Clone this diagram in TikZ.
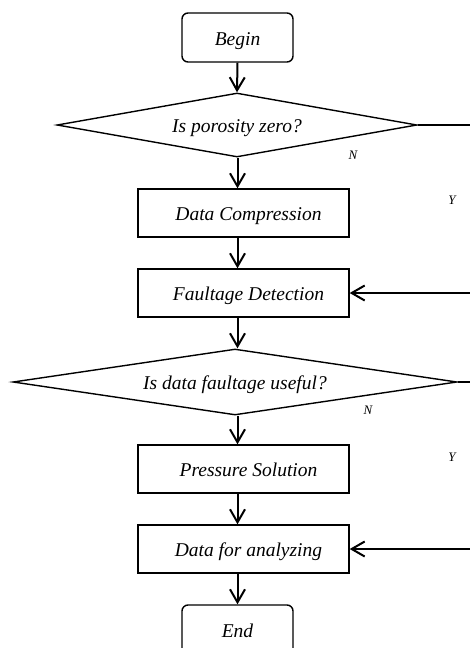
\documentclass[tikz,border=0pt]{standalone}
\usepackage{fontspec}
\setmainfont{Liberation Serif}
\usetikzlibrary{arrows.meta,shapes.geometric}
\begin{document}
\begin{tikzpicture}[x=1pt,y=-1pt,
  label font/.style={font=\fontsize{19.5}{23}\selectfont\itshape,
    text height=15pt, text depth=0pt},
  terminal/.style={draw, line width=1.4pt, rounded corners=6pt, rectangle,
    minimum width=111pt, minimum height=49pt, inner sep=0pt, label font},
  procbox/.style={draw, line width=1.4pt, rectangle,
    minimum width=211pt, minimum height=48pt, inner sep=0pt, label font},
  decision/.style={draw, line width=1.4pt, diamond, shape aspect=6,
    inner sep=0pt, label font},
  flow/.style={line width=2pt, -{Straight Barb[length=13pt,width=15pt,line width=2pt]}},
  link/.style={line width=2pt},
  yn/.style={font=\fontsize{13}{15}\selectfont\itshape, inner sep=0pt}]
\useasboundingbox (0,0) rectangle (470,648);

% main column
\node[terminal] (begin) at (237.5,37.5) {Begin};
\node[decision, minimum width=360pt, minimum height=64pt] (d1) at (237,125) {Is porosity zero?};
\node[procbox] (compress) at (243.5,213) {\hspace*{10pt}Data Compression};
\node[procbox] (fault) at (243.5,293) {\hspace*{10pt}Faultage Detection};
\node[decision, minimum width=444pt, minimum height=66pt] (d2) at (235,382) {Is data faultage useful?};
\node[procbox] (pressure) at (243.5,469) {\hspace*{10pt}Pressure Solution};
\node[procbox] (analyze) at (243.5,549) {\hspace*{10pt}Data for analyzing};
\node[terminal] (end) at (237.5,629.5) {End};

% branch labels
\node[yn] (n1) at (353,155) {N};
\node[yn] (y1) at (452,200) {Y};
\node[yn] (n2) at (368,410) {N};
\node[yn] (y2) at (452,457) {Y};

% right-hand branch ends
\coordinate (r1) at (470,125);
\coordinate (r2) at (470,293);
\coordinate (r3) at (470,382);
\coordinate (r4) at (470,549);

% downward flow
\draw[flow] (begin.south) -- (d1.north);
\draw[flow] (d1.south -| begin) -- (compress.north -| begin);
\draw[flow] (compress.south -| begin) -- (fault.north -| begin);
\draw[flow] (fault.south -| begin) -- (d2.north -| begin);
\draw[flow] (d2.south -| begin) -- (pressure.north -| begin);
\draw[flow] (pressure.south -| begin) -- (analyze.north -| begin);
\draw[flow] (analyze.south -| begin) -- (end.north);

% side branches
\draw[link] (d1.east) -- (r1);
\draw[flow] (r2) -- (fault.east);
\draw[link] (d2.east) -- (r3);
\draw[flow] (r4) -- (analyze.east);
\end{tikzpicture}
\end{document}
